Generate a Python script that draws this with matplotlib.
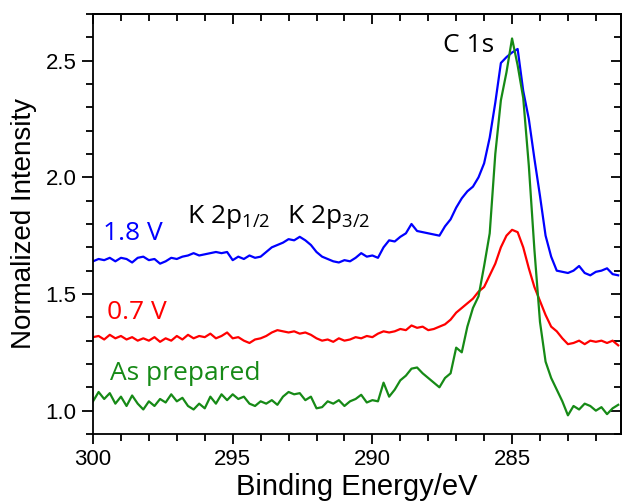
import matplotlib
matplotlib.use("Agg")
import matplotlib.pyplot as plt
import numpy as np
from matplotlib.ticker import MultipleLocator, NullFormatter, FormatStrFormatter

plt.rcParams['font.family'] = ['Liberation Sans', 'DejaVu Sans']
plt.rcParams['mathtext.default'] = 'regular'

# binding energy grid (eV), 0.2 eV steps from 300 down to 281.2
energia = np.round(np.arange(300.0, 281.1, -0.2), 1)

# 1.8 V
int_18v = [
    1.64, 1.65, 1.645, 1.655, 1.64, 1.655, 1.65, 1.635, 1.655, 1.66,
    1.645, 1.65, 1.63, 1.64, 1.655, 1.65, 1.66, 1.665, 1.675, 1.665,
    1.67, 1.675, 1.68, 1.675, 1.68, 1.645, 1.66, 1.65, 1.665, 1.655,
    1.66, 1.68, 1.70, 1.71, 1.72, 1.735, 1.73, 1.745, 1.73, 1.71,
    1.68, 1.66, 1.65, 1.64, 1.635, 1.645, 1.64, 1.655, 1.675, 1.66,
    1.665, 1.655, 1.70, 1.73, 1.725, 1.745, 1.76, 1.80, 1.77, 1.765,
    1.76, 1.755, 1.75, 1.79, 1.82, 1.87, 1.91, 1.94, 1.96, 2.00,
    2.06, 2.17, 2.32, 2.49, 2.515, 2.535, 2.55, 2.37, 2.25, 2.08,
    1.92, 1.75, 1.66, 1.60, 1.595, 1.59, 1.60, 1.62, 1.59, 1.58,
    1.595, 1.60, 1.61, 1.585, 1.58,
]

# 0.7 V
int_07v = [
    1.315, 1.32, 1.305, 1.325, 1.31, 1.32, 1.305, 1.315, 1.30, 1.31,
    1.30, 1.315, 1.295, 1.31, 1.30, 1.32, 1.305, 1.325, 1.31, 1.32,
    1.315, 1.33, 1.31, 1.32, 1.335, 1.31, 1.315, 1.30, 1.29, 1.305,
    1.31, 1.32, 1.335, 1.345, 1.34, 1.335, 1.34, 1.33, 1.335, 1.325,
    1.31, 1.30, 1.305, 1.295, 1.31, 1.30, 1.305, 1.315, 1.31, 1.32,
    1.315, 1.33, 1.34, 1.335, 1.34, 1.35, 1.345, 1.365, 1.355, 1.36,
    1.345, 1.35, 1.36, 1.37, 1.39, 1.42, 1.44, 1.46, 1.48, 1.51,
    1.53, 1.58, 1.63, 1.70, 1.75, 1.775, 1.765, 1.70, 1.61, 1.53,
    1.47, 1.41, 1.36, 1.34, 1.31, 1.285, 1.29, 1.30, 1.285, 1.30,
    1.295, 1.30, 1.29, 1.30, 1.28,
]

# as prepared
int_prep = [
    1.04, 1.08, 1.05, 1.075, 1.03, 1.06, 1.02, 1.065, 1.03, 1.005,
    1.04, 1.02, 1.05, 1.035, 1.07, 1.04, 1.055, 1.02, 1.005, 1.03,
    1.01, 1.06, 1.03, 1.07, 1.045, 1.07, 1.05, 1.06, 1.03, 1.02,
    1.04, 1.03, 1.045, 1.025, 1.06, 1.08, 1.07, 1.075, 1.045, 1.06,
    1.01, 1.015, 1.04, 1.03, 1.045, 1.02, 1.04, 1.05, 1.068, 1.035,
    1.045, 1.04, 1.12, 1.06, 1.09, 1.13, 1.15, 1.18, 1.185, 1.16,
    1.14, 1.12, 1.10, 1.14, 1.16, 1.27, 1.25, 1.36, 1.44, 1.49,
    1.62, 1.76, 2.10, 2.33, 2.45, 2.595, 2.48, 2.34, 2.05, 1.69,
    1.38, 1.21, 1.14, 1.09, 1.04, 0.98, 1.02, 1.005, 1.03, 1.02,
    1.00, 1.015, 0.985, 1.01, 1.025,
]

azul = '#0000ff'
rojo = '#ff0000'
verde = '#168a16'

fig = plt.figure(figsize=(6.23, 5.03), dpi=100)
ax = fig.add_axes([0.1493, 0.1372, 0.8475, 0.835])

ax.plot(energia, int_18v, color=azul, lw=1.6)
ax.plot(energia, int_07v, color=rojo, lw=1.6)
ax.plot(energia, int_prep, color=verde, lw=1.6)

ax.set_xlim(300, 281.1)
ax.set_ylim(0.90, 2.70)
ax.xaxis.set_major_locator(MultipleLocator(5))
ax.xaxis.set_minor_locator(MultipleLocator(1))
ax.yaxis.set_major_locator(MultipleLocator(0.5))
ax.yaxis.set_minor_locator(MultipleLocator(0.1))
ax.yaxis.set_major_formatter(FormatStrFormatter('%.1f'))

# ticks hacia fuera abajo/izquierda, hacia dentro arriba/derecha
ax.tick_params(which='both', top=False, right=False, labelsize=16, width=1.3, pad=4)
ax.tick_params(axis='x', which='major', direction='out', length=7)
ax.tick_params(axis='x', which='minor', direction='out', length=5)
ax.tick_params(axis='y', which='major', direction='out', length=8)
ax.tick_params(axis='y', which='minor', direction='out', length=5)

arriba = ax.secondary_xaxis('top')
arriba.xaxis.set_major_locator(MultipleLocator(5))
arriba.xaxis.set_minor_locator(MultipleLocator(1))
arriba.xaxis.set_major_formatter(NullFormatter())
arriba.tick_params(which='major', direction='in', length=7, width=1.3)
arriba.tick_params(which='minor', direction='in', length=5, width=1.3)

derecha = ax.secondary_yaxis('right')
derecha.yaxis.set_major_locator(MultipleLocator(0.5))
derecha.yaxis.set_minor_locator(MultipleLocator(0.1))
derecha.yaxis.set_major_formatter(NullFormatter())
derecha.tick_params(which='major', direction='in', length=7, width=1.3)
derecha.tick_params(which='minor', direction='in', length=5, width=1.3)

for sp in list(ax.spines.values()) + list(arriba.spines.values()) + list(derecha.spines.values()):
    sp.set_linewidth(1.3)

ax.set_xlabel('Binding Energy/eV', fontsize=21, labelpad=2)
ax.set_ylabel('Normalized Intensity', fontsize=20, labelpad=6)

anot = dict(fontsize=19, family=['Open Sans', 'DejaVu Sans'])
ax.text(299.65, 1.76, '1.8 V', color=azul, ha='left', va='center', **anot)
ax.text(299.5, 1.42, '0.7 V', color=rojo, ha='left', va='center', **anot)
ax.text(299.4, 1.16, 'As prepared', color=verde, ha='left', va='center', **anot)
ax.text(296.63, 1.83, 'K 2p$_{1/2}$', color='black', ha='left', va='center', **anot)
ax.text(293.05, 1.83, 'K 2p$_{3/2}$', color='black', ha='left', va='center', **anot)
ax.text(286.54, 2.565, 'C 1s', color='black', ha='center', va='center', **anot)

plt.savefig('out.png', dpi=100)
